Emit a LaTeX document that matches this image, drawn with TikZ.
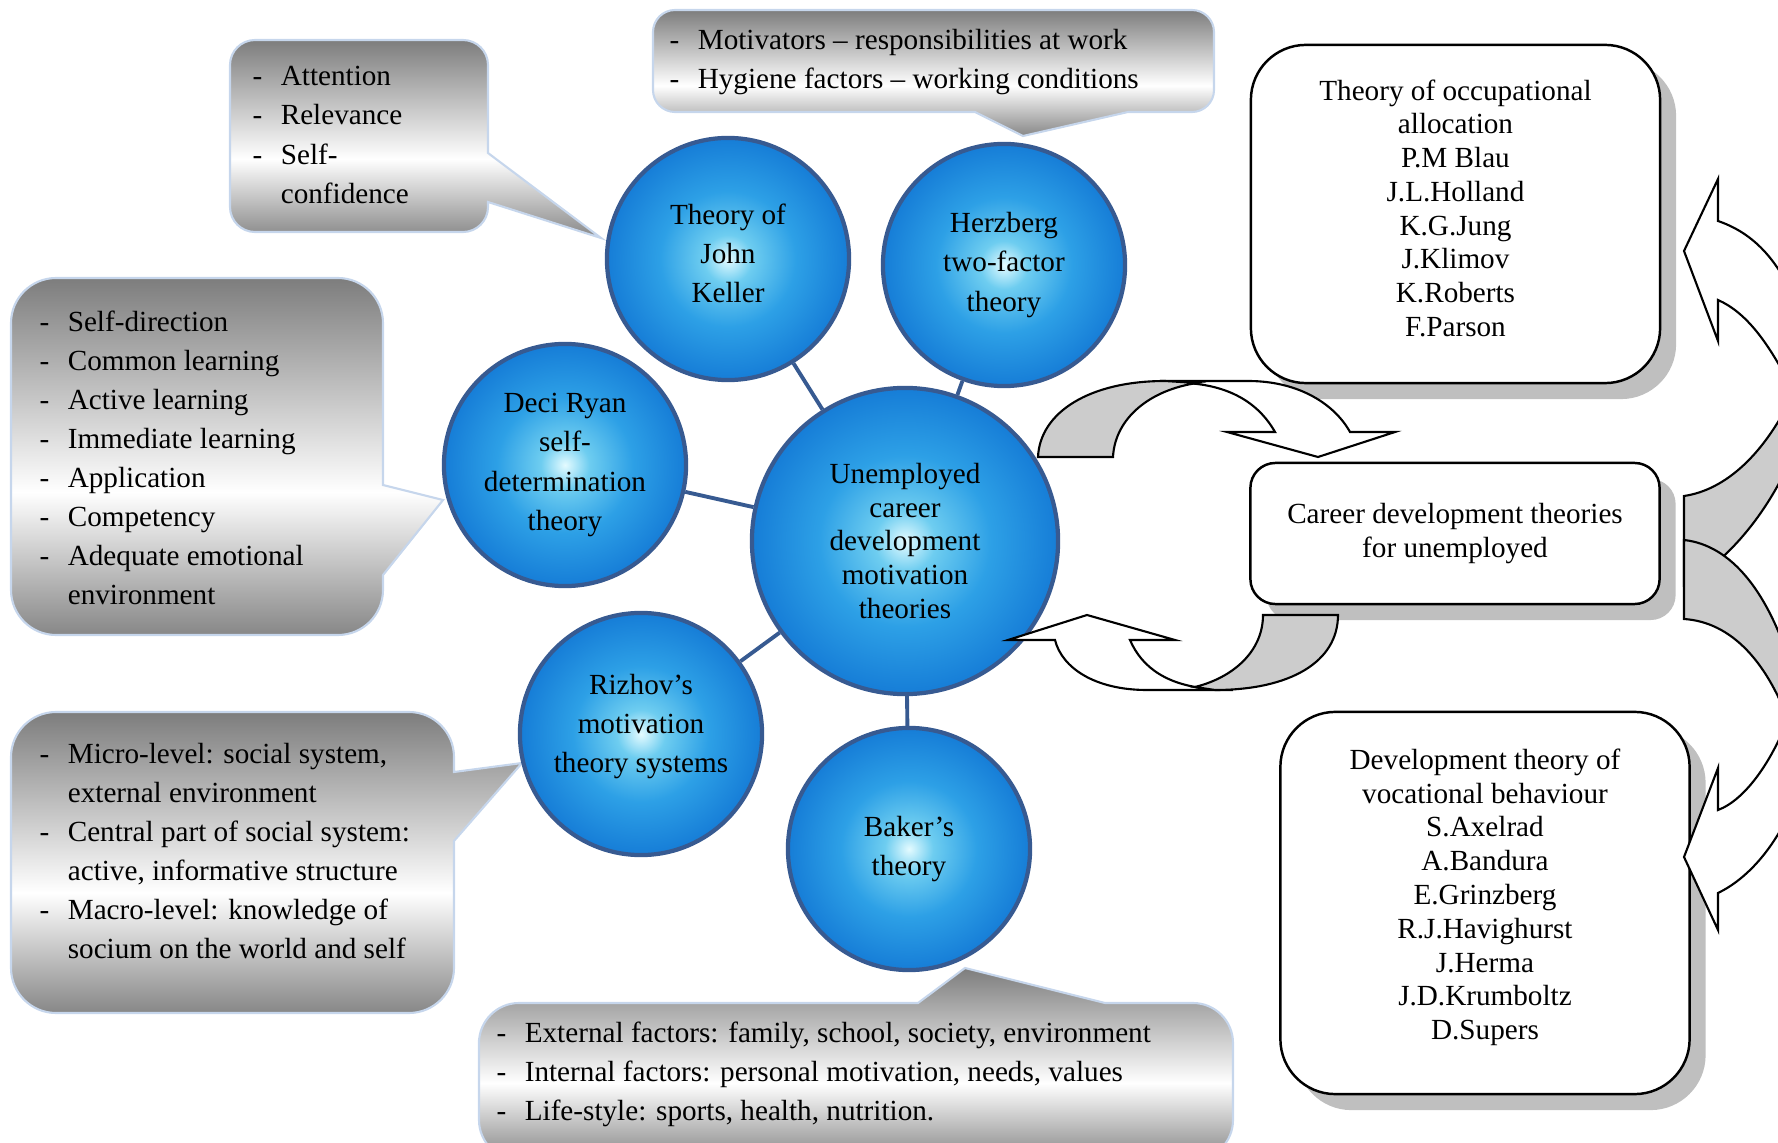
\documentclass[tikz,border=0pt]{standalone}
\usepackage{fontspec}
\setmainfont{Liberation Serif}
\usetikzlibrary{shadows}

\definecolor{bubA}{RGB}{228,251,255}
\definecolor{bubB}{RGB}{110,205,240}
\definecolor{bubC}{RGB}{45,160,230}
\definecolor{bubD}{RGB}{22,125,215}
\definecolor{bubEdge}{RGB}{55,90,145}
\definecolor{callTop}{RGB}{125,125,125}
\definecolor{callBot}{RGB}{135,135,135}
\definecolor{callEdge}{RGB}{198,214,236}
\definecolor{arrGray}{RGB}{204,204,204}

\pgfdeclareradialshading{bubshade}{\pgfpoint{0bp}{0bp}}{color(0bp)=(bubA); color(5bp)=(bubB); color(14bp)=(bubC); color(25bp)=(bubD); color(50bp)=(bubD)}
\pgfdeclareverticalshading{callgrad}{100bp}{color(0bp)=(callBot); color(25bp)=(callBot); color(45bp)=(white); color(75bp)=(callTop); color(100bp)=(callTop)}

\newcommand{\lidash}{\makebox[8pt][l]{-}}
\newcommand{\liskip}{\hspace*{8pt}}

\begin{document}
\begin{tikzpicture}[x=0.01cm, y=-0.01cm,
  bubble/.style = {circle, draw=bubEdge, line width=1.2pt, shade, shading=bubshade,
    minimum size=2.42cm, inner sep=0pt, align=center,
    font=\fontsize{8.3}{11.1}\selectfont},
  hub/.style = {bubble, minimum size=3.06cm, font=\fontsize{8.3}{9.6}\selectfont},
  link/.style = {draw=bubEdge, line width=1.1pt},
  callbox/.style = {draw=callEdge, line width=0.6pt, shade, shading=callgrad},
  calltext/.style = {anchor=west, align=left, inner sep=0pt,
    font=\fontsize{8.3}{11.1}\selectfont},
  rbox/.style = {draw, line width=0.7pt, fill=white, align=center,
    minimum width=4.09cm, font=\fontsize{8.3}{9.6}\selectfont,
    drop shadow={shadow xshift=0.16cm, shadow yshift=-0.16cm, fill=black!25, opacity=1}},
  swoop/.style = {draw, line width=0.6pt, line join=miter}]
  \path[use as bounding box] (0,0) rectangle (1778,1143);
  \clip (0,0) rectangle (1778,1143);

  \path[callbox, rounded corners=0.25cm] (230,136) -- (230,40) -- (488,40)
    [sharp corners] -- (488,153) -- (601,238) -- (488,202)
    [rounded corners=0.25cm] -- (488,232) -- (230,232) -- cycle;
  \node[calltext] (attTxt) at (252,135) {\lidash Attention\\\lidash Relevance\\\lidash Self-\\\liskip confidence};

  \path[callbox, rounded corners=0.22cm] (653,61) -- (653,10) -- (1214,10) -- (1214,112)
    [sharp corners] -- (1128,112) -- (1023,136) -- (975,112)
    [rounded corners=0.22cm] -- (653,112) -- cycle;
  \node[calltext] (motTxt) at (669,62) {\lidash Motivators -- responsibilities at work\\\lidash Hygiene factors -- working conditions};

  \path[callbox, rounded corners=0.45cm] (11,456) -- (11,278) -- (383,278)
    [sharp corners] -- (383,485) -- (443,500) -- (383,575)
    [rounded corners=0.45cm] -- (383,635) -- (11,635) -- cycle;
  \node[calltext] (selfTxt) at (39,458) {\lidash Self-direction\\\lidash Common learning\\\lidash Active learning\\\lidash Immediate learning\\\lidash Application\\\lidash Competency\\\lidash Adequate emotional\\\liskip environment};

  \path[callbox, rounded corners=0.45cm] (11,862) -- (11,712) -- (454,712)
    [sharp corners] -- (454,772) -- (522,763) -- (454,841)
    [rounded corners=0.45cm] -- (454,1013) -- (11,1013) -- cycle;
  \node[calltext] (levTxt) at (39,851) {\lidash Micro-level: social system,\\\liskip external environment\\\lidash Central part of social system:\\\liskip active, informative structure\\\lidash Macro-level: knowledge of\\\liskip socium on the world and self};

  \path[callbox, rounded corners=0.4cm] (479,1080) -- (479,1003)
    [sharp corners] -- (918,1003) -- (965,968) -- (1105,1003)
    [rounded corners=0.4cm] -- (1233,1003) -- (1233,1160) -- (479,1160) -- cycle;
  \node[calltext] (facTxt) at (496,1074) {\lidash External factors: family, school, society, environment\\\lidash Internal factors: personal motivation, needs, values\\\lidash Life-style: sports, health, nutrition.};

  \node[hub] (hub) at (905,541) {Unemployed\\career\\development\\motivation\\theories};
  \node[bubble, text depth=3.2pt] (keller) at (728,259) {Theory of\\John\\Keller};
  \node[bubble] (herz) at (1004,265) {Herzberg\\two-factor\\theory};
  \node[bubble] (deci) at (565,465) {Deci Ryan\\self-\\determination\\theory};
  \node[bubble, text depth=6.3pt] (rizhov) at (641,734) {Rizhov’s\\motivation\\theory systems};
  \node[bubble] (baker) at (909,849) {Baker’s\\theory};
  \draw[link] (keller) -- (hub);
  \draw[link] (herz) -- (hub);
  \draw[link] (deci) -- (hub);
  \draw[link] (rizhov) -- (hub);
  \draw[link] (baker) -- (hub);

  \node[rbox, minimum height=3.38cm, rounded corners=0.55cm, text depth=3.4pt] (occup) at (1455.5,214)
    {Theory of occupational\\allocation\\P.M Blau\\J.L.Holland\\K.G.Jung\\J.Klimov\\K.Roberts\\F.Parson};
  \node[rbox, minimum height=1.41cm, rounded corners=0.25cm] (career) at (1455,533.5)
    {Career development theories\\for unemployed};
  \node[rbox, minimum height=3.82cm, rounded corners=0.55cm, text depth=5pt] (vocat) at (1485,903)
    {Development theory of\\vocational behaviour\\S.Axelrad\\A.Bandura\\E.Grinzberg\\R.J.Havighurst\\J.Herma\\J.D.Krumboltz\\D.Supers};

  \draw[swoop, fill=white] (1160,381) -- (1248,381) .. controls (1300,381) and (1335,405) .. (1350,432)
    -- (1395,432) -- (1318,457) -- (1227,432) -- (1275,432) .. controls (1258,402) and (1228,385) .. (1185,383) -- cycle;
  \draw[swoop, fill=arrGray] (1038,457) .. controls (1040,412) and (1090,381) .. (1165,381) -- (1197,383)
    .. controls (1150,390) and (1115,418) .. (1113,457) -- cycle;
  \draw[swoop, fill=white] (1055,640) -- (1008,640) -- (1087,615) -- (1175,640) -- (1130,640)
    .. controls (1142,668) and (1168,686) .. (1212,689) -- (1233,690) -- (1147,690)
    .. controls (1095,690) and (1062,668) .. (1055,640) -- cycle;
  \draw[swoop, fill=arrGray] (1263,615) -- (1338,615) .. controls (1338,662) and (1290,690) .. (1215,690)
    -- (1195,687) .. controls (1235,677) and (1263,650) .. (1263,615) -- cycle;

  \draw[swoop, fill=arrGray] (1684,496) .. controls (1725,490) and (1765,455) .. (1795,390) -- (1795,450)
    .. controls (1770,510) and (1730,560) .. (1684,585) -- cycle;
  \draw[swoop, fill=arrGray] (1684,540) -- (1684,619) .. controls (1730,622) and (1770,660) .. (1795,740)
    -- (1795,680) .. controls (1770,590) and (1730,545) .. (1684,540) -- cycle;
  \draw[swoop, fill=white] (1718,179) -- (1684,251) -- (1718,341) -- (1718,300)
    .. controls (1745,312) and (1768,340) .. (1795,395) -- (1795,300)
    .. controls (1775,255) and (1750,232) .. (1718,221) -- cycle;
  \draw[swoop, fill=white] (1718,768) -- (1684,857) -- (1718,930) -- (1718,893)
    .. controls (1745,880) and (1775,850) .. (1795,800) -- (1795,700)
    .. controls (1775,760) and (1745,800) .. (1718,810) -- cycle;
\end{tikzpicture}
\end{document}
